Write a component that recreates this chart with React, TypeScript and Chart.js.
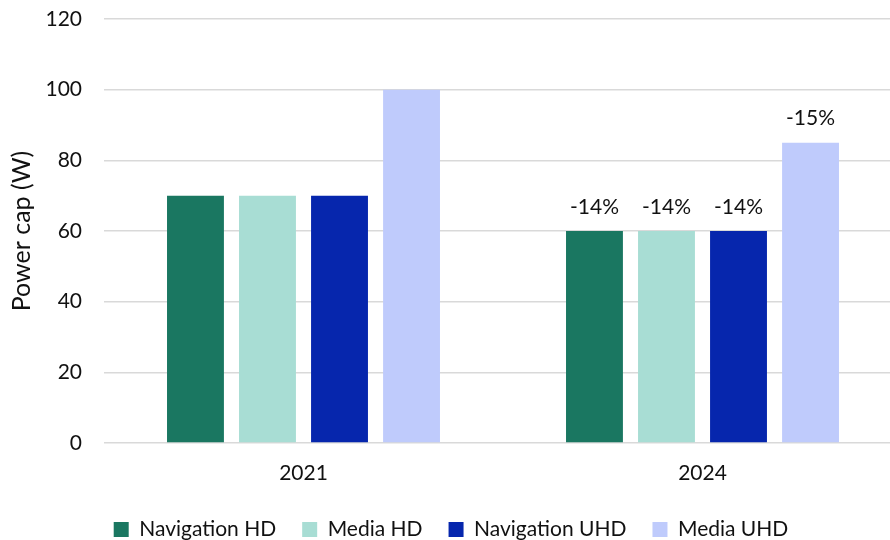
import React, { useEffect, useRef } from "react";
import { Chart, registerables } from "chart.js";

Chart.register(...registerables);

const years = ["2021", "2024"];
const navigationHD = [70, 60];
const mediaHD = [70, 60];
const navigationUHD = [70, 60];
const mediaUHD = [100, 85];
const changeLabels2024 = ["-14%", "-14%", "-14%", "-15%"];
const seriesNames = ["Navigation HD", "Media HD", "Navigation UHD", "Media UHD"];
const seriesColors = ["#1a7761", "#a8ddd4", "#0626ad", "#bfcbfc"];
const yMin = 0;
const yMax = 120;
const yStep = 20;

const FONT = "Lato, 'Open Sans', sans-serif";
const TEXT = "#111111";

const changeLabelPlugin = {
  id: "changeLabels",
  afterDatasetsDraw(chart: any) {
    const ctx = chart.ctx;
    ctx.save();
    ctx.font = `21px ${FONT}`;
    ctx.fillStyle = TEXT;
    ctx.textAlign = "center";
    ctx.textBaseline = "middle";
    chart.data.datasets.forEach((_: any, i: number) => {
      const meta = chart.getDatasetMeta(i);
      const bar = meta.data[1];
      if (!bar) return;
      ctx.fillText(changeLabels2024[i], bar.x, bar.y - 24);
    });
    ctx.restore();
  },
};

export default function App() {
  const ref = useRef<HTMLCanvasElement | null>(null);

  useEffect(() => {
    if (!ref.current) return;
    const datasets = [navigationHD, mediaHD, navigationUHD, mediaUHD].map((d, i) => ({
      label: seriesNames[i],
      data: d,
      backgroundColor: seriesColors[i],
      borderWidth: 0,
      categoryPercentage: 0.722,
      barPercentage: 0.79,
    }));
    const chart = new Chart(ref.current, {
      type: "bar",
      data: { labels: years, datasets },
      plugins: [changeLabelPlugin],
      options: {
        responsive: false,
        animation: false,
        devicePixelRatio: 1,
        layout: { padding: { top: 19, left: 0, right: 0, bottom: -10 } },
        plugins: {
          tooltip: { enabled: false },
          legend: {
            position: "bottom",
            labels: {
              font: { family: FONT, size: 21 },
              color: TEXT,
              boxWidth: 15,
              boxHeight: 15,
              padding: 26,
            },
          },
        },
        scales: {
          x: {
            grid: { display: false, drawTicks: false },
            border: { display: false },
            ticks: { font: { family: FONT, size: 21 }, color: TEXT, padding: 18 },
            afterFit(scale: any) {
              scale.height = 50;
            },
          },
          y: {
            min: yMin,
            max: yMax,
            ticks: {
              stepSize: yStep,
              font: { family: FONT, size: 21 },
              color: TEXT,
              padding: 0,
            },
            grid: {
              color: "#d9d9d9",
              lineWidth: 1.5,
              drawTicks: true,
              tickLength: 22,
              tickColor: "rgba(0,0,0,0)",
            },
            border: { display: false },
            title: {
              display: true,
              text: "Power cap (W)",
              font: { family: FONT, size: 25 },
              color: TEXT,
              padding: { top: 7, bottom: 0 },
            },
            afterFit(scale: any) {
              scale.width = 104;
            },
          },
        },
      },
    });
    return () => chart.destroy();
  }, []);

  return (
    <div style={{ position: "fixed", left: 0, top: 0, width: 890, height: 540, overflow: "hidden", background: "#fff" }}>
      <canvas ref={ref} width={902} height={540} style={{ display: "block" }} />
    </div>
  );
}
